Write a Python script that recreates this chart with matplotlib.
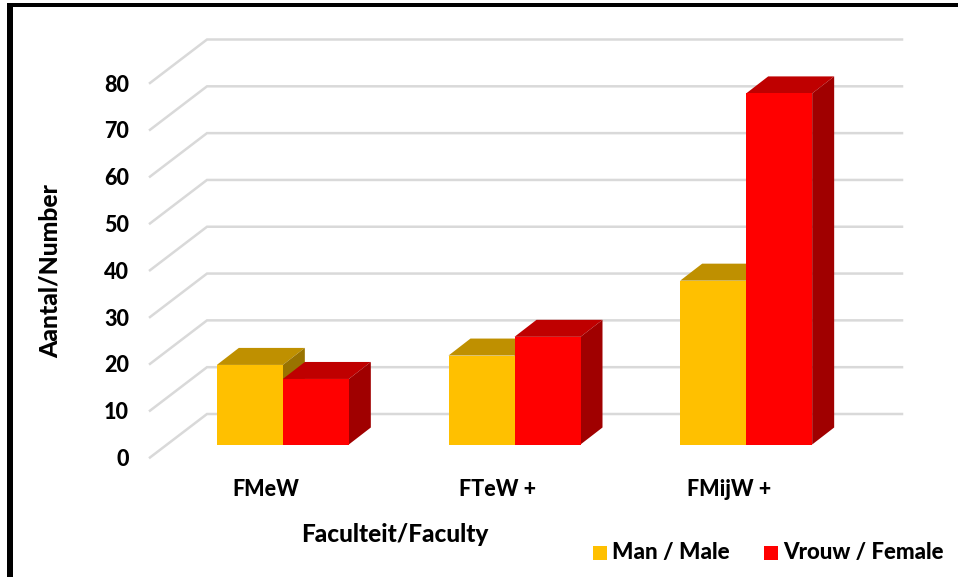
import numpy as np
import matplotlib.pyplot as plt
from matplotlib.patches import Polygon, Rectangle

plt.rcParams['font.family'] = ['Lato', 'DejaVu Sans']
plt.rcParams['font.weight'] = 'black'

# values
faculties = ['FMeW', 'FTeW +', 'FMijW +']
male = [17, 19, 35]
female = [14, 23, 75]
y_ticks = [0, 10, 20, 30, 40, 50, 60, 70, 80]
series_names = ['Man / Male', 'Vrouw / Female']

W, H = 958, 577
fig = plt.figure(figsize=(W / 100, H / 100), dpi=100)

# front plane of the fake 3d box, in pixels
left, right, top, bottom = 150, 845, 83, 457.5
ax = fig.add_axes([left / W, 1 - bottom / H, (right - left) / W, (bottom - top) / H])
ax.set_xlim(0, 3)
ax.set_ylim(0, 80)
ax.patch.set_visible(False)
for s in ax.spines.values():
    s.set_visible(False)

px_x = 3 / (right - left)
px_y = 80 / (bottom - top)
wall_dx, wall_dy = 57 * px_x, 43.5 * px_y     # depth of the box
bar_dx, bar_dy = 22 * px_x, 17 * px_y         # depth of a bar
start_dx, start_dy = 17 * px_x, 13 * px_y     # bars sit mid depth
bar_w = 66 * px_x

grid_col = '#d9d9d9'
for v in y_ticks:
    ax.plot([0, wall_dx, 3 + wall_dx], [v, v + wall_dy, v + wall_dy],
            color=grid_col, lw=1.8, clip_on=False, zorder=1, solid_joinstyle='miter')


def bar3d(x0, val, front, top_col, side_col, z):
    x = x0 + start_dx
    y0 = start_dy
    y1 = val + start_dy
    ax.add_patch(Polygon([(x, y1), (x + bar_w, y1), (x + bar_w + bar_dx, y1 + bar_dy), (x + bar_dx, y1 + bar_dy)],
                         fc=top_col, ec='none', clip_on=False, zorder=z))
    ax.add_patch(Polygon([(x + bar_w, y0), (x + bar_w + bar_dx, y0 + bar_dy),
                          (x + bar_w + bar_dx, y1 + bar_dy), (x + bar_w, y1)],
                         fc=side_col, ec='none', clip_on=False, zorder=z))
    ax.add_patch(Rectangle((x, y0), bar_w, val, fc=front, ec='none', clip_on=False, zorder=z + 0.1))


centers = np.arange(len(faculties)) + 0.5
for i, c in enumerate(centers):
    bar3d(c - bar_w, male[i], '#ffc000', '#bf9000', '#997300', 2)
    bar3d(c, female[i], '#ff0000', '#bf0000', '#a00000', 3)

ax.set_yticks(y_ticks)
ax.set_xticks(centers)
ax.set_xticklabels(faculties)
ax.tick_params(axis='y', length=0, pad=15, labelsize=15.5)
ax.tick_params(axis='x', length=0, pad=15.5, labelsize=15.5)

fig.text(394.5 / W, 1 - 535 / H, 'Faculteit/Faculty', ha='center', va='center', fontsize=17.6)
fig.text(50.5 / W, 1 - 271.5 / H, 'Aantal/Number', ha='center', va='center', rotation=90, fontsize=17.8)

# legend by hand so the swatches land in the right spot
fig.patches.append(Rectangle((593 / W, 1 - 560 / H), 14 / W, 14 / H, fc='#ffc000', ec='none', transform=fig.transFigure))
fig.patches.append(Rectangle((764 / W, 1 - 560 / H), 14 / W, 14 / H, fc='#ff0000', ec='none', transform=fig.transFigure))
fig.text(612 / W, 1 - 553 / H, series_names[0], ha='left', va='center', fontsize=16.2)
fig.text(783 / W, 1 - 553 / H, series_names[1], ha='left', va='center', fontsize=16)

# black frame, open on the right and bottom
fig.patches.append(Rectangle((7 / W, 0), 5.5 / W, 1 - 3 / H, fc='black', ec='none', transform=fig.transFigure))
fig.patches.append(Rectangle((7 / W, 1 - 6.5 / H), 1 - 7 / W, 3.5 / H, fc='black', ec='none', transform=fig.transFigure))

fig.savefig('out.png', dpi=100)
